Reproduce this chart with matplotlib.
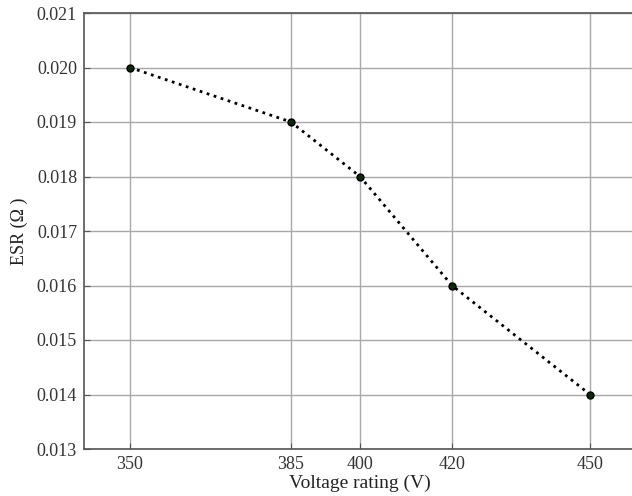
import matplotlib
matplotlib.use('Agg')
from matplotlib import pyplot as plt

voltage = [350, 385, 400, 420, 450]
esr = [0.020, 0.019, 0.018, 0.016, 0.014]
y_ticks = [0.013, 0.014, 0.015, 0.016, 0.017, 0.018, 0.019, 0.020, 0.021]

plt.rcParams['font.family'] = ['Liberation Serif', 'DejaVu Serif']

fig = plt.figure(figsize=(6.32, 4.96), dpi=100)
ax = fig.add_axes([84 / 632, 47 / 496, 552 / 632, 436 / 496])

ax.plot(voltage, esr, ':', color='black', linewidth=2, marker='o',
        markersize=5, markerfacecolor='#0a2a0a', markeredgecolor='black')

ax.set_xlim(340, 460)
ax.set_ylim(0.013, 0.021)
ax.set_xticks(voltage)
ax.set_yticks(y_ticks)
ax.set_yticklabels(['%.3f' % v for v in y_ticks])
ax.grid(True, color='#a8a8a8', linewidth=1)
ax.tick_params(direction='in', labelsize=13, labelcolor='#333333',
               color='#555555', length=4, pad=5)
for s in ax.spines.values():
    s.set_color('#555555')
    s.set_linewidth(1.2)

ax.set_xlabel('Voltage rating (V)', fontsize=14, color='#222222', labelpad=1)
ax.set_ylabel('ESR (\u03a9 )', fontsize=13, color='#222222', labelpad=6)

fig.savefig('out.png', dpi=100)
